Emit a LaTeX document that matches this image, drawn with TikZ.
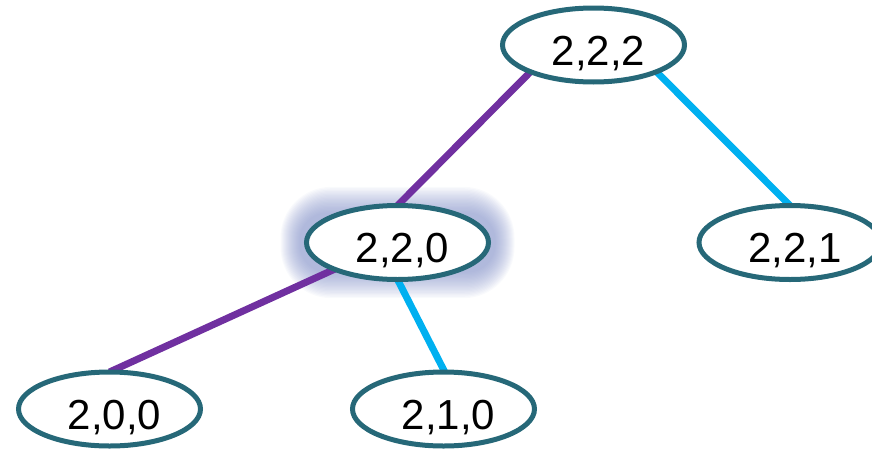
\documentclass[tikz,border=0pt]{standalone}
\usepackage{fontspec}
\setmainfont{Liberation Sans}
\usetikzlibrary{shapes.geometric,backgrounds}
\definecolor{nodeborder}{RGB}{38,104,120}
\definecolor{edgepurple}{RGB}{112,48,160}
\definecolor{edgecyan}{RGB}{0,176,240}
\definecolor{glowcol}{RGB}{120,135,195}
\begin{document}
\begin{tikzpicture}[x=1pt,y=-1pt,
  state/.style={ellipse, draw=nodeborder, line width=5pt, fill=white,
    minimum width=182pt, minimum height=74pt, inner sep=0pt, outer sep=0pt,
    font=\fontsize{42}{42}\selectfont, text height=40pt, text depth=0pt},
  purpleedge/.style={edgepurple, line width=7pt},
  cyanedge/.style={edgecyan, line width=7pt},
  glowlayer/.style={fill=glowcol, opacity=0.045}]
\useasboundingbox (0,0) rectangle (872,450);
\node[state] (n222) at (593.5,45) {\hspace*{10pt}2,2,2};
\node[state] (n220) at (397.5,242.5) {\hspace*{10pt}2,2,0};
\node[state] (n221) at (790,242.5) {\hspace*{10pt}2,2,1};
\node[state] (n200) at (109.5,409) {\hspace*{10pt}2,0,0};
\node[state] (n210) at (443.5,409) {\hspace*{10pt}2,1,0};
\begin{scope}[on background layer]
  \foreach \i in {0,...,19}
    \fill[glowlayer, rounded corners={(28+1.2*\i)*1pt}]
      ([shift={(-98-1.0*\i,-30-1.35*\i)}]n220.center) rectangle
      ([shift={(98+1.0*\i,30+1.35*\i)}]n220.center);
  \draw[purpleedge] (n222.203) -- (n220.90);
  \draw[cyanedge] (n222.337) -- (n221.90);
  \draw[purpleedge] (n220.203) -- (n200.90);
  \draw[cyanedge] (n220.270) -- (n210.88);
\end{scope}
\end{tikzpicture}
\end{document}
